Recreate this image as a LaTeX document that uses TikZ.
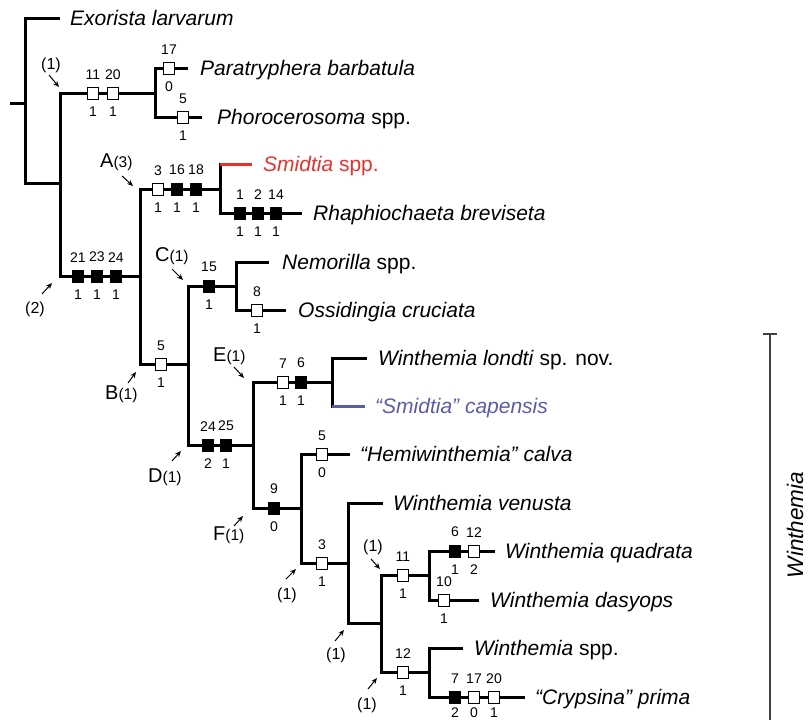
\documentclass[tikz,border=0pt]{standalone}
\usepackage{fontspec}
\setmainfont{Liberation Sans}
\usetikzlibrary{positioning, arrows.meta}

\definecolor{smidred}{HTML}{E8322E}
\definecolor{capblue}{HTML}{5B5BA8}

\newcommand{\cladesub}[1]{{\fontsize{15.5}{15.5}\selectfont #1}}

\tikzset{
    branch/.style={line width=3pt},
    openbox/.style={draw, fill=white, line width=0.8pt, minimum width=11pt, minimum height=12pt, inner sep=0pt},
    filledbox/.style={fill=black, minimum width=12pt, minimum height=13pt, inner sep=0pt},
    chr/.style={font=\fontsize{14}{14}\selectfont, inner sep=0pt, label distance=7pt},
    taxon/.style={font=\fontsize{21}{21}\selectfont, inner sep=0pt, text height=15pt, text depth=0pt},
    clade/.style={anchor=base west, font=\fontsize{20}{20}\selectfont, inner sep=0pt},
    note/.style={font=\fontsize{16}{16}\selectfont, inner sep=0pt},
    pointer/.style={-{Stealth[length=6pt, width=5pt]}, line width=1pt},
}

\begin{document}
\begin{tikzpicture}[x=1pt, y=-1pt]
    \useasboundingbox (0,0) rectangle (811,720);

    % define internal nodes
    \coordinate (base) at (10,103);
    \coordinate (R) at (25,103);
    \coordinate (P) at (60,183);
    \coordinate (Q) at (155,93);
    \coordinate (S) at (140,276);
    \coordinate (A) at (220,189);
    \coordinate (B) at (188,364);
    \coordinate (C) at (236,286);
    \coordinate (D) at (253,445);
    \coordinate (E) at (332,382);
    \coordinate (F) at (301,508);
    \coordinate (G) at (348,563);
    \coordinate (H) at (381,623);
    \coordinate (I) at (429,575);
    \coordinate (J) at (429,672);

    % define tips
    \coordinate (exo) at (60,18);
    \coordinate (par) at (188,68);
    \coordinate (pho) at (202,117);
    \coordinate (smi) at (252,164);
    \coordinate (rha) at (302,213);
    \coordinate (nem) at (269,262);
    \coordinate (oss) at (286,310);
    \coordinate (lon) at (367,358);
    \coordinate (cap) at (365,406);
    \coordinate (hem) at (350,454);
    \coordinate (ven) at (383,503);
    \coordinate (qua) at (495,551);
    \coordinate (das) at (479,600);
    \coordinate (wsp) at (463,648);
    \coordinate (cry) at (525,697);

    % draw branches
    \draw[branch] (base) -- (R);
    \foreach \p/\c in {R/exo, R/P, P/Q, P/S, Q/par, Q/pho, S/A, S/B, A/rha,
                       B/C, B/D, C/nem, C/oss, D/E, D/F, E/lon, F/hem, F/G,
                       G/ven, G/H, H/I, H/J, I/qua, I/das, J/wsp, J/cry}
        \draw[branch] (\p) |- (\c);
    \draw[branch, line cap=rect] (A) -- (A |- smi);
    \draw[branch, smidred] (A |- smi) -- (smi);
    \draw[branch, line cap=rect] (E) -- (E |- cap);
    \draw[branch, capblue] (E |- cap) -- (cap);

    % character boxes
    \foreach [count=\i] \x/\y/\k/\u/\d in {
        93/93/openbox/11/1, 113/93/openbox/20/1,
        169/68/openbox/17/0, 183/117/openbox/5/1,
        78/276/filledbox/21/1, 97/276/filledbox/23/1, 116/276/filledbox/24/1,
        158/189/openbox/3/1, 177/189/filledbox/16/1, 196/189/filledbox/18/1,
        240/213/filledbox/1/1, 258/213/filledbox/2/1, 276/213/filledbox/14/1,
        209/286/filledbox/15/1, 257/310/openbox/8/1,
        161/364/openbox/5/1,
        208/445/filledbox/24/2, 226/445/filledbox/25/1,
        283/382/openbox/7/1, 301/382/filledbox/6/1,
        274/508/filledbox/9/0, 322/454/openbox/5/0,
        322/563/openbox/3/1, 403/575/openbox/11/1,
        455/551/filledbox/6/1, 474/551/openbox/12/2,
        444/600/openbox/10/1, 403/672/openbox/12/1}
        \node[\k, label={[chr]above:\u}, label={[chr]below:\d}] (ch\i) at (\x,\y) {};
    % last row sits on the lower edge
    \foreach [count=\i from 29] \x/\k/\u/\d in {455/filledbox/7/2, 474/openbox/17/0, 494/openbox/20/1}
        \node[\k, label={[chr]above:\u}, label={[chr, label distance=4pt]below:\d}] (ch\i) at (\x,697) {};

    % taxon labels
    \node[taxon, right=10pt of exo] (exoL) {\textit{Exorista larvarum}};
    \node[taxon, right=12pt of par] (parL) {\textit{Paratryphera barbatula}};
    \node[taxon, right=15pt of pho] (phoL) {\textit{Phorocerosoma} spp.};
    \node[taxon, right=11pt of smi, text=smidred] (smiL) {\textit{Smidtia} spp.};
    \node[taxon, right=11pt of rha] (rhaL) {\textit{Rhaphiochaeta breviseta}};
    \node[taxon, right=13pt of nem] (nemL) {\textit{Nemorilla} spp.};
    \node[taxon, right=12pt of oss] (ossL) {\textit{Ossidingia cruciata}};
    \node[taxon, right=11pt of lon] (lonL) {\textit{Winthemia londti} sp. nov.};
    \node[taxon, right=10pt of cap, text=capblue] (capL) {\textit{“Smidtia” capensis}};
    \node[taxon, right=10pt of hem] (hemL) {\textit{“Hemiwinthemia” calva}};
    \node[taxon, right=10pt of ven] (venL) {\textit{Winthemia venusta}};
    \node[taxon, right=10pt of qua] (quaL) {\textit{Winthemia quadrata}};
    \node[taxon, right=11pt of das] (dasL) {\textit{Winthemia dasyops}};
    \node[taxon, right=11pt of wsp] (wspL) {\textit{Winthemia} spp.};
    \node[taxon, right=10pt of cry] (cryL) {\textit{“Crypsina” prima}};

    % clade labels
    \node[clade] (labA) at (100,167) {A\cladesub{(3)}};
    \node[clade] (labB) at (105,399) {B\cladesub{(1)}};
    \node[clade] (labC) at (155,261) {C\cladesub{(1)}};
    \node[clade] (labD) at (148,482) {D\cladesub{(1)}};
    \node[clade] (labE) at (213,361) {E\cladesub{(1)}};
    \node[clade] (labF) at (213,540) {F\cladesub{(1)}};
    \node[note] (lab1) at (51,65) {(1)};
    \node[note] (lab2) at (35,309) {(2)};
    \node[note] (labG) at (287,595) {(1)};
    \node[note] (labH) at (336,655) {(1)};
    \node[note] (labI) at (373,547) {(1)};
    \node[note] (labJ) at (367,705) {(1)};

    % arrows
    \foreach \n/\tx/\ty/\hx/\hy in {a1/49/75/59/87, a2/42/294/52/283,
            aA/122/176/133/186, aB/128/383/136/372, aC/172/269/183/280,
            aD/172/461/181/451, aE/234/367/244/378, aF/234/526/243/516,
            aG/286/579/296/569, aH/335/641/344/630, aI/371/559/380/569,
            aJ/368/689/377/678}
    {
        \coordinate (\n-t) at (\tx,\ty);
        \coordinate (\n-h) at (\hx,\hy);
        \draw[pointer] (\n-t) -- (\n-h);
    }

    % Winthemia bracket
    \coordinate (wtop) at (770,334);
    \coordinate (wbot) at (770,720);
    \coordinate (wl) at (763,334);
    \coordinate (wr) at (777,334);
    \draw[line width=1.2pt, black!75] (wl) -- (wr);
    \draw[line width=1.2pt, black!75] (wtop) -- (wbot);
    \node[rotate=90, anchor=north, inner sep=0pt, text height=16pt, text depth=0pt,
          font=\fontsize{22.5}{22.5}\selectfont] (wlab) at (787,525) {\textit{Winthemia}};
\end{tikzpicture}
\end{document}
